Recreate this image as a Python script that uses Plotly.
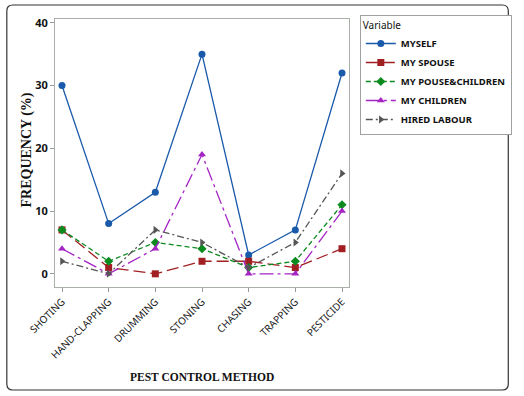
import plotly.graph_objects as go

categories = ["SHOTING", "HAND-CLAPPING", "DRUMMING", "STONING", "CHASING", "TRAPPING", "PESTICIDE"]
myself = [30, 8, 13, 35, 3, 7, 32]
my_spouse = [7, 1, 0, 2, 2, 1, 4]
my_pouse_children = [7, 2, 5, 4, 1, 2, 11]
my_children = [4, 0, 4, 19, 0, 0, 10]
hired_labour = [2, 0, 7, 5, 1, 5, 16]
y_ticks = [0, 10, 20, 30, 40]

series = [
    ("MYSELF", myself, "#1a5aaa", "solid", "circle"),
    ("MY SPOUSE", my_spouse, "#a11e22", "12px,5px", "square"),
    ("MY POUSE&CHILDREN", my_pouse_children, "#0b8a1e", "5px,3px", "diamond"),
    ("MY CHILDREN", my_children, "#a424c4", "14px,4px,3px,4px", "triangle-up"),
    ("HIRED LABOUR", hired_labour, "#555555", "7px,3px,2px,3px", "triangle-right"),
]

fig = go.Figure()
xs = list(range(len(categories)))
for name, vals, color, dash, sym in series:
    fig.add_trace(go.Scatter(
        x=xs, y=vals, name=name, mode="lines+markers",
        line=dict(color=color, width=1.3, dash=dash),
        marker=dict(symbol=sym, size=7, color=color),
    ))

W, H = 524, 396
L, R, T, B = 55, 354, 19, 287
pw, ph = R - L, B - T

def px(x):
    return (x - L) / pw

def py(y):
    return (B - y) / ph

# rounded outer frame
x0, x1, y0, y1 = 6, 516, 5, 390
r = 6
def P(x, y):
    return f"{px(x):.4f},{py(y):.4f}"
path = (f"M {P(x0 + r, y0)} L {P(x1 - r, y0)} Q {P(x1, y0)} {P(x1, y0 + r)} "
        f"L {P(x1, y1 - r)} Q {P(x1, y1)} {P(x1 - r, y1)} "
        f"L {P(x0 + r, y1)} Q {P(x0, y1)} {P(x0, y1 - r)} "
        f"L {P(x0, y0 + r)} Q {P(x0, y0)} {P(x0 + r, y0)} Z")

fig.update_layout(
    width=W, height=H,
    margin=dict(l=L, r=W - R, t=T, b=H - B),
    paper_bgcolor="white", plot_bgcolor="white",
    showlegend=True,
    legend=dict(
        x=px(365), y=py(15), xanchor="left", yanchor="top",
        bordercolor="#a0a0a0", borderwidth=1,
        font=dict(family="Noto Sans", size=9.5, color="#111", weight="bold"),
        title=dict(text="Variable", font=dict(family="Noto Sans", size=10, color="#111", weight="normal")),
        tracegroupgap=0, itemwidth=30,
    ),
    xaxis=dict(
        range=[-0.15, 6.15], tickmode="array", tickvals=xs, ticktext=categories,
        tickangle=-45, ticks="outside", ticklen=4, tickcolor="#999",
        showline=True, mirror=True, linecolor="#a8b0a8", linewidth=1,
        showgrid=False, zeroline=False, automargin=False,
        tickfont=dict(family="Noto Sans", size=10, color="#111"),
    ),
    yaxis=dict(
        range=[-2.1, 40.6], tickmode="array", tickvals=y_ticks,
        ticks="outside", ticklen=4, tickcolor="#999",
        showline=True, mirror=True, linecolor="#a8b0a8", linewidth=1,
        showgrid=False, zeroline=False, automargin=False,
        tickfont=dict(family="Noto Sans", size=11, color="#111", weight="bold"),
    ),
    shapes=[dict(type="path", xref="paper", yref="paper", path=path,
                 line=dict(color="#333", width=1.2), layer="below")],
    annotations=[
        dict(text="<b>FREQUENCY (%)</b>", xref="paper", yref="paper",
             x=px(27), y=py(150), xanchor="center", yanchor="middle",
             textangle=-90, showarrow=False,
             font=dict(family="Liberation Serif", size=14, color="#111")),
        dict(text="<b>PEST CONTROL METHOD</b>", xref="paper", yref="paper",
             x=px(205), y=py(377), xanchor="center", yanchor="middle",
             showarrow=False,
             font=dict(family="Liberation Serif", size=11.5, color="#111")),
    ],
)

fig.write_html("out.html", config={"displayModeBar": False},
               post_script="document.body.style.margin='0';document.body.style.overflow='hidden';")
